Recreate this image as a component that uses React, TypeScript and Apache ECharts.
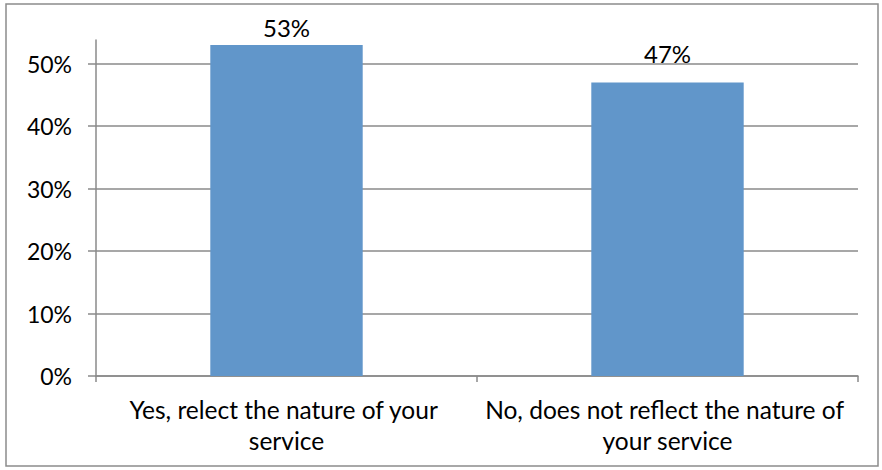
import React, { useEffect, useRef } from "react";
import * as echarts from "echarts";

const categories = [
  "Yes, relect the nature of your service",
  "No, does not reflect the nature of your service",
];
const values = [0.53, 0.47];
const yTicks = [0, 0.1, 0.2, 0.3, 0.4, 0.5];

const FONT = "Lato, 'Open Sans', sans-serif";
const GRID_COLOR = "#8a8a8a";
const labelDistances = [5, 17];

export default function App() {
  const ref = useRef<HTMLDivElement>(null);
  useEffect(() => {
    if (!ref.current) return;
    const chart = echarts.init(ref.current, undefined, { renderer: "svg" });
    const splitColors = yTicks.map(() => GRID_COLOR).concat(["rgba(0,0,0,0)"]);
    chart.setOption({
      animation: false,
      backgroundColor: "#ffffff",
      grid: { left: 96, right: 24, top: 40, bottom: 94, containLabel: false },
      graphic: [
        {
          type: "rect",
          shape: { x: 6, y: 4, width: 872, height: 462 },
          style: { fill: "none", stroke: "#8c8c8c", lineWidth: 1.5 },
          silent: true,
        },
      ],
      xAxis: {
        type: "category",
        data: categories,
        axisLine: { show: true, lineStyle: { color: GRID_COLOR, width: 1.5 } },
        axisTick: { show: true, length: 6, lineStyle: { color: GRID_COLOR, width: 1.5 } },
        axisLabel: {
          interval: 0,
          color: "#000",
          fontFamily: FONT,
          fontSize: 24.5,
          lineHeight: 31,
          margin: 18,
          width: 378,
          overflow: "break",
          align: "center",
        },
      },
      yAxis: {
        type: "value",
        min: 0,
        max: 0.538,
        interval: 0.1,
        axisLine: { show: true, lineStyle: { color: GRID_COLOR, width: 1.5 } },
        axisTick: { show: true, length: 8, lineStyle: { color: GRID_COLOR, width: 1.5 } },
        splitLine: { show: true, lineStyle: { color: splitColors, width: 1.5 } },
        axisLabel: {
          color: "#000",
          fontFamily: FONT,
          fontSize: 23,
          margin: 24,
          showMaxLabel: false,
          formatter: (v: number) => {
            const p = Math.round(v * 100);
            return p % 10 === 0 ? p + "%" : "";
          },
        },
      },
      series: [
        {
          type: "bar",
          data: values.map((v, i) => ({
            value: v,
            label: { distance: labelDistances[i] },
          })),
          barWidth: "40%",
          itemStyle: { color: "#6196CA" },
          label: {
            show: true,
            position: "top",
            distance: 5,
            color: "#000",
            fontFamily: FONT,
            fontSize: 24,
            formatter: (p: any) => Math.round(p.value * 100) + "%",
          },
        },
      ],
    });
    return () => chart.dispose();
  }, []);
  return (
    <div
      ref={ref}
      style={{ position: "fixed", left: 0, top: 0, width: 882, height: 470 }}
    />
  );
}
